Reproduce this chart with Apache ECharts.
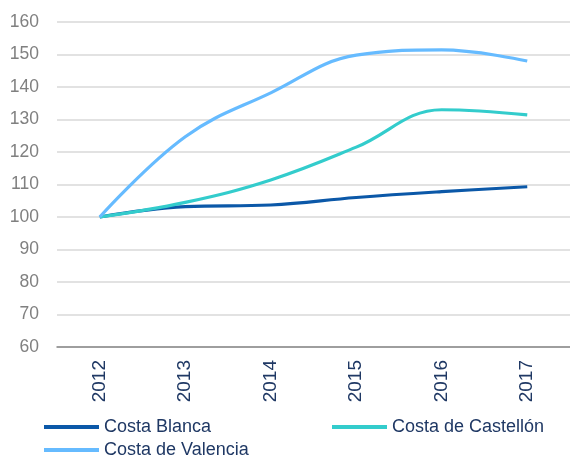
<!DOCTYPE html>
<html><head><meta charset="utf-8">
<script src="https://cdn.jsdelivr.net/npm/echarts@6/dist/echarts.min.js"></script>
<style>html,body{margin:0;padding:0;background:#fff}#c{width:570px;height:459px}</style>
</head><body><div id="c"></div>
<script>
const categories = ['2012','2013','2014','2015','2016','2017'];
const costaBlanca = [100, 103.2, 103.7, 106.0, 107.8, 109.3];
const costaCastellon = [100, 104.5, 111.4, 121.5, 133.0, 131.4];
const costaValencia = [100, 124.7, 138.2, 149.8, 151.4, 148.0];
const yTicks = {min: 60, max: 160, interval: 10};

const chart = echarts.init(document.getElementById('c'));
const font = 'Liberation Sans, Arial, sans-serif';
const legendText = {color: '#1f3864', fontSize: 18, fontFamily: font};
function mk(name, data, color) {
  return {name, type: 'line', data, smooth: 0.4, symbol: 'none',
    lineStyle: {color, width: 3.2}, itemStyle: {color}};
}
function lg(name, left, top) {
  return {data: [name], left, top, padding: 0, itemWidth: 55, itemHeight: 4, itemGap: 0,
    textStyle: legendText, icon: 'rect'};
}
chart.setOption({
  animation: false,
  grid: {left: 57, right: -1, top: 22, bottom: 112, containLabel: false},
  xAxis: {type: 'category', data: categories, boundaryGap: true,
    axisLine: {lineStyle: {color: '#888', width: 1.5}},
    axisTick: {length: 5, lineStyle: {color: '#888', width: 1.5}},
    axisLabel: {rotate: 90, color: '#1f3864', fontSize: 19, fontFamily: font, margin: 13}},
  yAxis: {type: 'value', min: yTicks.min, max: yTicks.max, interval: yTicks.interval,
    axisLine: {show: false}, axisTick: {show: false},
    splitLine: {lineStyle: {color: '#d9d9d9', width: 1.5}},
    axisLabel: {color: '#808080', fontSize: 17.5, fontFamily: font, margin: 18}},
  legend: [
    lg('Costa Blanca', 44, 418),
    lg('Costa de Castellón', 332, 418),
    lg('Costa de Valencia', 44, 441)
  ],
  series: [
    mk('Costa Blanca', costaBlanca, '#0b58a8'),
    mk('Costa de Castellón', costaCastellon, '#33cccc'),
    mk('Costa de Valencia', costaValencia, '#66bbff')
  ]
});
</script></body></html>
